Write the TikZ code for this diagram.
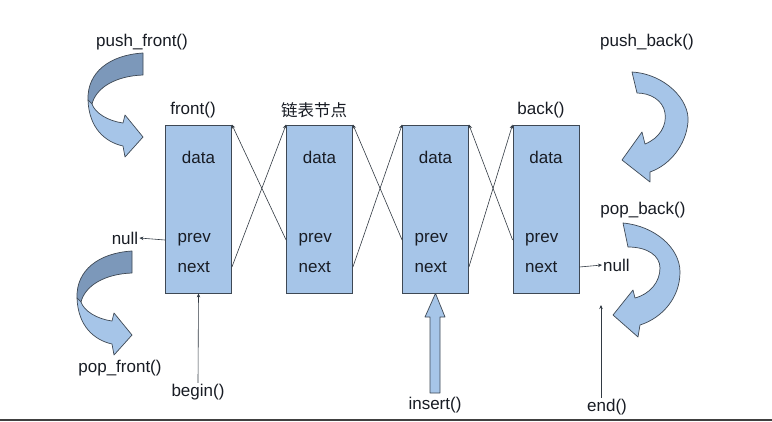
\documentclass[tikz,border=0pt]{standalone}
\usepackage{fontspec}
\setmainfont{Liberation Sans}
\newfontfamily\cjk{Noto Sans CJK SC}
\usetikzlibrary{arrows.meta}
\definecolor{boxfill}{RGB}{166,197,232}
\definecolor{boxline}{RGB}{62,72,84}
\definecolor{arrdark}{RGB}{124,152,186}
\definecolor{txt}{RGB}{24,28,36}
\begin{document}
\begin{tikzpicture}[x=1pt,y=-1pt,
  lbl/.style={font=\fontsize{17}{20}\selectfont, text=txt, inner sep=1pt},
  boxnode/.style={draw=boxline, fill=boxfill, line width=0.8pt, minimum width=66pt, minimum height=168pt, inner sep=0pt},
  link/.style={draw=boxline!80!black, line width=0.6pt, -{Stealth[length=4pt,width=3.5pt]}},
  bent/.style={draw=boxline, line width=0.7pt, line join=round},
  curvearrow/.pic={
    \path[bent, fill=arrdark] (143,53) .. controls (110,55) and (87,72) .. (88,100) -- (92,104) .. controls (96,88) and (115,76) .. (143,75) -- cycle;
    \path[bent, fill=boxfill] (88,100) .. controls (89,128) and (105,142) .. (123,146) -- (125,157) -- (143,137) -- (125,115) -- (123,123) .. controls (108,121) and (95,113) .. (92,104) -- cycle;
  }]
\useasboundingbox (0,0) rectangle (772,421);
\fill[white] (0,0) rectangle (772,421);
\draw[black!75, line width=1.5pt] (0,420.2) -- (772,420.2);

% boxes
\node[boxnode] (b1) at (198.5,209) {};
\node[boxnode] (b2) at (319.5,209) {};
\node[boxnode] (b3) at (435.5,209) {};
\node[boxnode] (b4) at (546,209) {};

\foreach \i/\x in {1/198.5,2/319.5,3/435.5,4/546}{
  \node[lbl] (d\i) at (\x,157) {data};
  \node[lbl, anchor=west] (p\i) at (\x-22,240) {prev};
  \node[lbl, anchor=west] (n\i) at (\x-22,267) {next};
}

% top labels
\node[lbl] (front) at (193,110) {front()};
\node[lbl, font=\cjk\fontsize{16.5}{19}\selectfont] (node) at (314,110) {链表节点};
\node[lbl] (back) at (541,110) {back()};

% cross links
\draw[link] (b1.east |- n1) -- (b2.north west);
\draw[link] (b2.west |- p2) -- (b1.north east);
\draw[link] (b2.east |- n2) -- (b3.north west);
\draw[link] (b3.west |- p3) -- (b2.north east);
\draw[link] (b3.east |- n3) -- (b4.north west);
\draw[link] (b4.west |- p4) -- (b3.north east);

% nulls
\node[lbl] (nullL) at (125,238) {null};
\draw[link] (b1.west |- p1) -- (nullL.east);
\node[lbl, anchor=west] (nullR) at (602,265) {null};
\draw[link] (b4.east |- n4) -- (nullR.west);

% iterators
\node[lbl] (beg) at (198,392) {begin()};
\draw[link] (beg.north) -- (b1.south);
\node[lbl] (endn) at (607,407) {end()};
\coordinate (endtop) at (601,305);
\draw[link] (endn.north -| endtop) -- (endtop);

% insert block arrow
\node[lbl] (ins) at (435,405) {insert()};
\path[bent, fill=boxfill] (430,393) -- (430,317) -- (425,317) -- (b3.south) -- (445,317) -- (440,317) -- (440,393) -- cycle;

% curved arrows
\node[lbl] (pf) at (142,42) {push\_front()};
\pic at (0,0) {curvearrow};
\node[lbl] (pof) at (120,368) {pop\_front()};
\pic at (-11,198) {curvearrow};

\node[lbl] (pb) at (647,42) {push\_back()};
\path[bent, fill=boxfill] (632,72) .. controls (665,74) and (690,100) .. (688,122) .. controls (686,145) and (670,165) .. (650,172) -- (650,182) -- (622,160) -- (642,132) -- (645,144) .. controls (660,138) and (667,125) .. (665,113) .. controls (663,100) and (650,93) .. (637,93) -- cycle;

\node[lbl] (pob) at (643,210) {pop\_back()};
\path[bent, fill=boxfill] (623,223) .. controls (655,226) and (680,248) .. (680,272) .. controls (680,298) and (662,318) .. (640,325) -- (638,337) -- (613,315) -- (633,290) -- (635,298) .. controls (650,294) and (660,282) .. (660,268) .. controls (660,256) and (648,247) .. (628,247) -- cycle;
\end{tikzpicture}
\end{document}
